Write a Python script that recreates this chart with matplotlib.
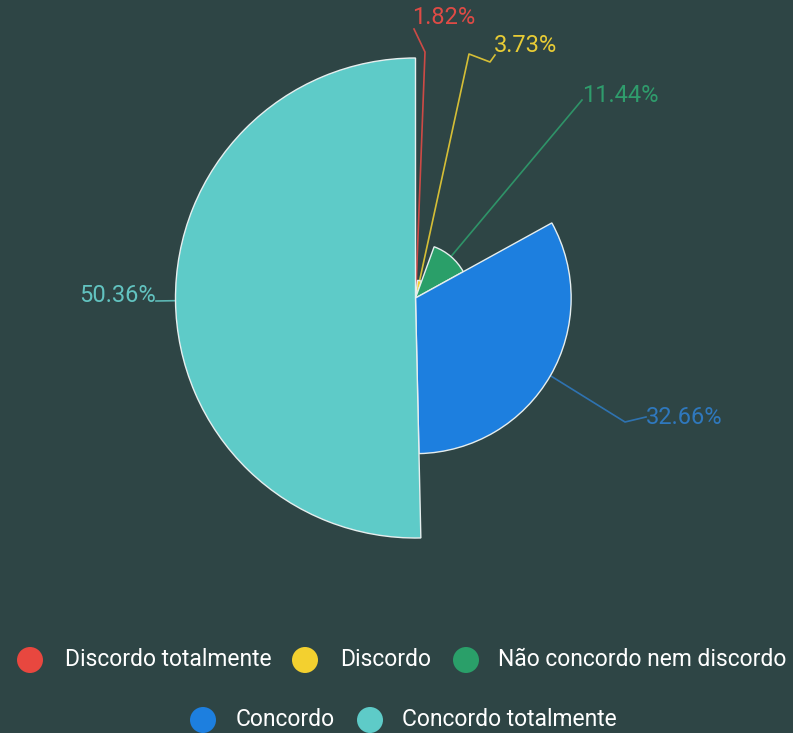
import numpy as np
import matplotlib.pyplot as plt
from matplotlib.patches import Wedge, Circle

# data
categories = ['Discordo totalmente', 'Discordo', 'Não concordo nem discordo',
              'Concordo', 'Concordo totalmente']
values = [1.82, 3.73, 11.44, 32.66, 50.36]
labels = ['1.82%', '3.73%', '11.44%', '32.66%', '50.36%']

colors = ['#e8473f', '#f3d02f', '#2a9f69', '#1d7fdf', '#5ecbc8']
label_colors = ['#df4b45', '#e8cc35', '#2f9c6c', '#2f78bd', '#62c3c0']
bg = '#2e4545'

plt.rcParams['font.family'] = ['Roboto', 'DejaVu Sans']

fig = plt.figure(figsize=(7.93, 7.33), dpi=100, facecolor=bg)
ax = fig.add_axes([0, 0, 1, 1])
ax.set_facecolor(bg)
ax.set_xlim(0, 793)
ax.set_ylim(733, 0)
ax.axis('off')

cx, cy, rmax = 415.5, 298, 240
total = sum(values)
vmax = max(values)

# rose chart: angle ~ share, radius ~ value (start at top, clockwise)
cum = 0
anchors = []
for v, c in zip(values, colors):
    a0 = -90 + cum / total * 360
    a1 = -90 + (cum + v) / total * 360
    r = v / vmax * rmax
    ax.add_patch(Wedge((cx, cy), r, a0, a1, facecolor=c, edgecolor='#e6eeee',
                       linewidth=1.0, zorder=2))
    mid = np.radians((a0 + a1) / 2)
    anchors.append((cx + r * np.cos(mid), cy + r * np.sin(mid)))
    cum += v

# label lines (elbow points) and text placement
elbows = [
    [(425, 52), (414, 29)],
    [(469, 54), (490, 62), (495, 55)],
    [(582, 100)],
    [(625, 422), (646, 417)],
    [(156, 301)],
]
text_pos = [(412, 18, 'left'), (494, 46, 'left'), (582, 96, 'left'),
            (646, 418, 'left'), (156, 296, 'right')]

for i in range(len(values)):
    pts = [anchors[i]] + elbows[i]
    xs, ys = zip(*pts)
    ax.plot(xs, ys, color=label_colors[i], lw=1.2, zorder=1, alpha=0.9)
    tx, ty, ha = text_pos[i]
    ax.text(tx, ty, labels[i], color=label_colors[i], fontsize=17,
            ha=ha, va='center')

# legend
legend_rows = [
    [(30, 65), (305, 340), (466, 498)],
    [(203, 236), (370, 402)],
]
k = 0
for row_y, row in zip([660, 720], legend_rows):
    for cxl, tx in row:
        ax.add_patch(Circle((cxl, row_y), 13, facecolor=colors[k], edgecolor='none'))
        ax.text(tx, row_y, categories[k], color='white', fontsize=16.5,
                ha='left', va='center')
        k += 1

fig.savefig('out.png', dpi=100, facecolor=bg)
